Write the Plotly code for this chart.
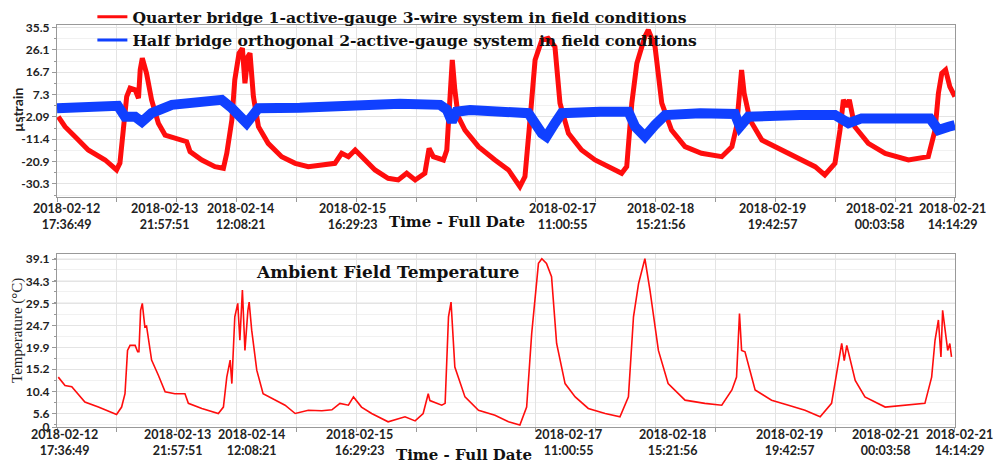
import pandas as pd
import plotly.graph_objects as go

# ---------------- data (hours since 2018-02-12 17:36:49) ----------------
START = "2018-02-12 17:36:49"
END = "2018-02-21 14:14:29"

quarter_h = [0.3, 1.9, 4.3, 7.4, 11.4, 14.1, 14.9, 15.7, 16.5, 17.3, 18.5, 19.3, 19.7, 20.2, 21.2,
             22.4, 24.0, 25.6, 27.9, 30.7, 31.5, 34.3, 37.4, 39.4, 40.2, 41.0, 41.4, 42.1, 43.1,
             43.9, 44.5, 45.2, 45.7, 46.5, 47.7, 50.0, 53.2, 56.4, 59.5, 62.7, 65.8, 67.4, 69.0,
             70.6, 72.9, 75.3, 78.4, 80.8, 82.8, 84.8, 87.1, 88.1, 89.1, 91.5, 92.3, 93.1, 93.6,
             94.2, 95.0, 96.6, 99.8, 103.7, 106.9, 109.6, 110.8, 112.0, 113.2, 114.8, 116.3,
             117.9, 119.1, 121.1, 124.2, 127.4, 130.5, 133.7, 134.9, 136.1, 137.3, 139.2, 140.0,
             141.6, 143.2, 145.5, 148.7, 152.6, 157.4, 159.8, 160.9, 161.7, 162.1, 162.7, 164.1,
             166.9, 171.6, 176.3, 179.5, 181.8, 184.2, 185.4, 186.2, 187.0, 187.6, 188.9, 192.1,
             196.1, 201.6, 206.3, 207.9, 208.7, 209.5, 210.4, 211.4, 212.6]
quarter_v = [-2.0, -6.2, -10.4, -16.0, -20.2, -24.4, -21.5, -7.6, 6.5, 10.0, 9.3, 5.8, 17.7, 22.6, 16.3,
             5.1, -4.7, -9.7, -11.1, -12.5, -16.7, -20.2, -23.0, -23.7, -17.4, -6.2, -3.4, 13.5, 24.7,
             26.8, 12.1, 23.3, 24.7, 6.5, -6.2, -13.2, -18.8, -21.6, -23.0, -22.3, -21.6, -17.4, -18.8,
             -16.0, -20.2, -24.4, -27.9, -28.6, -25.8, -28.6, -25.8, -15.3, -18.8, -20.2, -16.0, 13.5, 21.9,
             9.3, -2.0, -7.6, -14.6, -20.2, -24.4, -31.4, -27.2, -3.4, 21.9, 30.3, 31.0,
             27.5, 3.7, -9.0, -16.0, -20.2, -23.0, -25.8, -23.0, 3.7, 20.5, 31.7, 34.5,
             27.5, 3.7, -7.6, -14.6, -17.4, -18.8, -14.6, -6.2, 13.5, 17.7, 7.9, -3.4,
             -11.8, -16.0, -20.2, -23.0, -26.5, -21.6, -7.6, 5.1, 2.2, 5.1, -6.2, -13.2,
             -17.4, -20.2, -18.8, -7.6, 7.9, 16.3, 17.7, 10.7, 6.5]

half_h = [0.0, 10.2, 14.4, 16.1, 18.5, 20.1, 22.4, 27.2, 35.0, 39.0, 41.4, 43.7, 44.9, 46.1, 47.7,
          57.5, 70.6, 81.2, 90.7, 92.3, 93.5, 94.6, 97.8, 110.8, 111.6, 114.8, 115.9, 117.9, 119.5,
          128.6, 135.3, 136.9, 139.2, 141.6, 144.0, 152.3, 160.5, 161.7, 163.7, 175.9, 184.2, 187.4,
          190.5, 206.7, 208.7, 211.1, 212.6]
half_v = [1.6, 1.8, 2.6, -2.0, -2.0, -4.1, -0.5, 3.0, 4.3, 5.1, 1.6, -2.0, -4.7, -2.0, 1.6,
          1.8, 2.6, 3.5, 3.0, 1.0, -4.1, 0.1, 0.8, 0.5, -0.5, -9.0, -10.4, -4.7, -0.5,
          0.1, 0.1, -6.2, -10.4, -5.5, -1.3, -0.5, -0.8, -6.2, -2.0, -1.3, -1.3, -4.7,
          -2.7, -2.7, -7.6, -6.2, -5.5]

temp_h = [0.3, 1.9, 3.5, 6.6, 9.8, 14.1, 15.3, 16.1, 16.7, 17.3, 18.5, 19.1, 19.4, 19.8, 20.2, 20.8,
          21.2, 22.4, 24.0, 25.6, 27.9, 30.3, 31.1, 34.3, 38.2, 39.4, 40.2, 41.0, 41.4, 42.1, 42.8,
          43.3, 43.9, 44.5, 45.2, 45.5, 46.1, 47.3, 48.8, 51.6, 54.0, 56.4, 59.5, 62.7, 65.1, 67.0,
          69.0, 70.2, 72.1, 74.5, 78.4, 82.4, 84.8, 86.7, 87.9, 88.3, 91.1, 91.9, 92.7, 93.3, 94.2,
          96.6, 99.8, 103.7, 106.9, 109.6, 111.2, 112.4, 114.0, 114.8, 115.9, 117.1, 118.3, 120.3,
          122.7, 125.8, 129.8, 133.3, 135.3, 136.5, 137.7, 139.2, 140.4, 142.4, 144.7, 148.7, 153.4,
          157.4, 159.8, 160.9, 161.6, 162.1, 162.9, 165.3, 169.2, 173.2, 177.1, 180.7, 183.4, 184.6,
          185.8, 186.4, 187.0, 189.0, 191.3, 196.1, 200.8, 205.5, 207.1, 207.9, 208.7, 209.3, 209.7,
          210.2, 210.9, 211.4, 211.8]
temp_v = [13.5, 11.7, 11.4, 8.1, 7.0, 5.4, 7.0, 9.9, 19.3, 20.4, 20.4, 19.0, 19.0, 28.0, 29.5, 24.4,
          24.6, 17.2, 13.9, 10.3, 9.9, 9.9, 7.8, 6.7, 5.6, 7.0, 13.5, 17.2, 12.1, 26.6, 29.5,
          21.5, 32.4, 19.3, 28.0, 29.8, 23.7, 15.0, 9.9, 8.5, 7.4, 5.6, 6.3, 6.2, 6.4, 7.8,
          7.4, 9.2, 7.0, 5.6, 3.8, 4.9, 4.0, 5.6, 9.9, 8.4, 7.4, 7.8, 26.6, 29.8, 15.7,
          9.2, 6.3, 5.2, 3.8, 3.1, 7.0, 23.0, 38.2, 39.2, 38.2, 35.3, 20.8, 12.1,
          9.2, 6.7, 5.6, 4.9, 9.2, 26.6, 33.8, 39.2, 32.4, 19.3, 12.1, 8.5, 7.8,
          7.4, 10.7, 13.5, 27.3, 19.3, 19.0, 10.7, 8.5, 7.4, 6.3, 4.9, 7.8, 14.3,
          20.8, 17.1, 20.4, 12.8, 9.2, 7.0, 7.4, 7.8, 13.5, 21.5, 25.9, 17.9, 28.0,
          24.2, 19.3, 20.8, 17.9]

# x tick labels and the grid index (of 16 evenly spaced grid lines) they belong to
x_labels = ["2018-02-12<br>17:36:49", "2018-02-13<br>21:57:51", "2018-02-14<br>12:08:21",
            "2018-02-15<br>16:29:23", "2018-02-17<br>11:00:55", "2018-02-18<br>15:21:56",
            "2018-02-19<br>19:42:57", "2018-02-21<br>00:03:58", "2018-02-21<br>14:14:29"]
x_label_grid = [0, 2, 3, 5, 8, 10, 12, 14, 15]
N_GRID = 16

strain_tickvals = [35.5, 26.1, 16.7, 7.3, -2.09, -11.4, -20.9, -30.3]
strain_ticktext = ["35.5", "26.1", "16.7", "7.3", "-2.09", "-11.4", "-20.9", "-30.3"]
temp_tickvals = [2.67, 5.6, 10.4, 15.2, 19.9, 24.7, 29.5, 34.3, 39.1]
temp_ticktext = ["0", "5.6", "10.4", "15.2", "19.9", "24.7", "29.5", "34.3", "39.1"]

legend_names = ["Quarter bridge 1-active-gauge 3-wire system in field conditions",
                "Half bridge orthogonal 2-active-gauge system in field conditions"]

# layout-only: pixel nudges of the tick labels, as placed in the original
label_shift_top = [9, -12, 4, -4, 27, 5, -3, -16, -2]
label_shift_bottom = [7, 1, 15, 3, 33, 17, 14, -10, 5]

# ---------------- build ----------------
t0 = pd.Timestamp(START)
t1 = pd.Timestamp(END)
def to_time(hours):
    return [t0 + pd.Timedelta(hours=h) for h in hours]

step = (t1 - t0) / (N_GRID - 1)
x_tickvals = [t0 + step * k for k in range(N_GRID)]

RED = "#ff0d0d"
BLUE = "#1040ff"

fig = go.Figure()
fig.add_trace(go.Scatter(x=to_time(quarter_h), y=quarter_v, mode="lines", showlegend=False,
                         line=dict(color=RED, width=5), xaxis="x2", yaxis="y2"))
fig.add_trace(go.Scatter(x=to_time(half_h), y=half_v, mode="lines", showlegend=False,
                         line=dict(color=BLUE, width=10), xaxis="x2", yaxis="y2"))
fig.add_trace(go.Scatter(x=to_time(temp_h), y=temp_v, mode="lines", showlegend=False,
                         line=dict(color=RED, width=1.6), xaxis="x", yaxis="y"))
# legend entries (thin sample lines like the original legend)
fig.add_trace(go.Scatter(x=[None], y=[None], mode="lines", name=legend_names[0],
                         line=dict(color=RED, width=3), xaxis="x2", yaxis="y2"))
fig.add_trace(go.Scatter(x=[None], y=[None], mode="lines", name=legend_names[1],
                         line=dict(color=BLUE, width=3), xaxis="x2", yaxis="y2"))

grid = "#e4e4e4"
axcol = "#999999"
ytickfont = dict(family="Lato", size=12, color="#222", weight="bold")

xcommon = dict(type="date", range=[t0, t1], tickmode="array", tickvals=x_tickvals,
               showticklabels=False, showgrid=True, gridcolor=grid, gridwidth=1, showline=True,
               linecolor=axcol, linewidth=1.2, mirror=True, ticks="outside", ticklen=4,
               tickcolor=axcol, zeroline=False)

fig.update_layout(
    width=997, height=467,
    margin=dict(l=57, r=42, t=25, b=40, autoexpand=False),
    paper_bgcolor="white", plot_bgcolor="white",
    xaxis=dict(domain=[0, 1], anchor="y", **xcommon),
    xaxis2=dict(domain=[0, 1], anchor="y2", **xcommon),
    yaxis=dict(domain=[0, 0.43], anchor="x", range=[2.67, 40.2], tickmode="array",
               tickvals=temp_tickvals, ticktext=temp_ticktext, showgrid=True, gridcolor=grid,
               minor=dict(dtick=2.4, tick0=5.6, showgrid=True, gridcolor="#f1f1f1", ticks="outside",
                          ticklen=2, tickcolor=axcol),
               showline=True, linecolor=axcol, linewidth=1.2, mirror=True, ticks="outside", ticklen=4,
               tickcolor=axcol, tickfont=ytickfont, zeroline=False),
    yaxis2=dict(domain=[0.572, 1], anchor="x2", range=[-35.8, 36.6], tickmode="array",
                tickvals=strain_tickvals, ticktext=strain_ticktext, showgrid=True, gridcolor=grid,
                minor=dict(dtick=4.7, tick0=35.5, showgrid=True, gridcolor="#f1f1f1", ticks="outside",
                           ticklen=2, tickcolor=axcol),
                showline=True, linecolor=axcol, linewidth=1.2, mirror=True, ticks="outside", ticklen=4,
                tickcolor=axcol, tickfont=ytickfont, zeroline=False),
    legend=dict(x=0.0394, y=1.062, xanchor="left", yanchor="top", bgcolor="rgba(0,0,0,0)",
                font=dict(family="DejaVu Serif", size=15.6, color="#111", weight="bold"),
                tracegroupgap=0, itemwidth=30),
    showlegend=True,
)

# x tick labels (both panels)
xlabfont = dict(family="Lato", size=12.5, color="#222", weight="bold")
for txt, gi, st, sb in zip(x_labels, x_label_grid, label_shift_top, label_shift_bottom):
    fig.add_annotation(text=txt, xref="x2", yref="paper", x=x_tickvals[gi], xshift=st,
                       y=0.567, xanchor="center", yanchor="top", showarrow=False, font=xlabfont)
    fig.add_annotation(text=txt, xref="x", yref="paper", x=x_tickvals[gi], xshift=sb,
                       y=0.005, xanchor="center", yanchor="top", showarrow=False, font=xlabfont)

serif_b = dict(family="DejaVu Serif", color="#111", weight="bold")
fig.add_annotation(text="Time - Full Date", xref="paper", yref="paper", x=0.4454, y=0.510,
                   xanchor="center", yanchor="middle", showarrow=False, font=dict(size=15, **serif_b))
fig.add_annotation(text="Time - Full Date", xref="paper", yref="paper", x=0.453, y=-0.070,
                   xanchor="center", yanchor="middle", showarrow=False, font=dict(size=15, **serif_b))
fig.add_annotation(text="Ambient Field Temperature", xref="paper", yref="paper", x=0.3675, y=0.3856,
                   xanchor="center", yanchor="middle", showarrow=False, font=dict(size=17, **serif_b))
fig.add_annotation(text="µstrain", xref="paper", yref="paper", x=-0.0434, y=0.7886, textangle=-90,
                   xanchor="center", yanchor="middle", showarrow=False,
                   font=dict(family="Lato", size=14, color="#222", weight="bold"))
fig.add_annotation(text="Temperature (°C)", xref="paper", yref="paper", x=-0.0434, y=0.239, textangle=-90,
                   xanchor="center", yanchor="middle", showarrow=False,
                   font=dict(family="Liberation Serif", size=15, color="#222"))

fig.write_html("out.html", config={"displayModeBar": False},
               post_script="document.body.style.margin='0';document.body.style.overflow='hidden';")
